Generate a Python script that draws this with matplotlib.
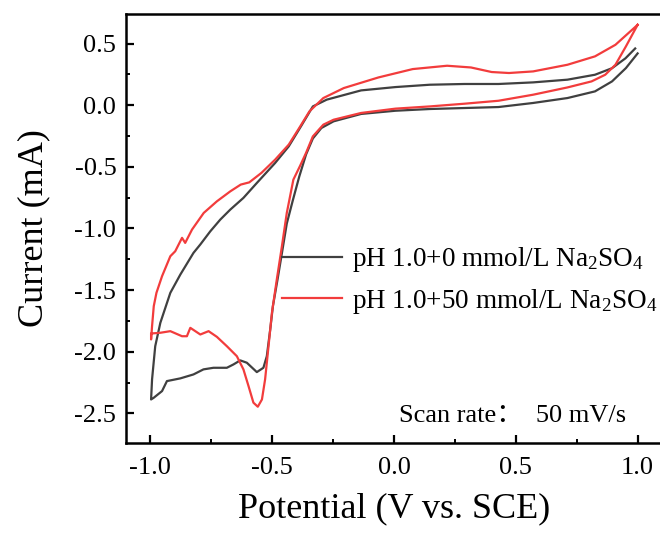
import matplotlib
matplotlib.use("Agg")
import matplotlib.pyplot as plt
from matplotlib.ticker import MultipleLocator

# CV loop: potential (V vs. SCE) and current (mA)
# each loop starts at the +1.0 V vertex, runs down the cathodic scan, back up
E_0mM = [1.00, 0.952, 0.895, 0.825, 0.712, 0.571, 0.429, 0.289, 0.147, 0.006,
         -0.135, -0.248, -0.298, -0.333, -0.361, -0.389, -0.415, -0.440, -0.460,
         -0.478, -0.497, -0.508, -0.522, -0.536, -0.563, -0.604, -0.631, -0.659,
         -0.686, -0.741, -0.782, -0.823, -0.877, -0.932, -0.952, -0.986, -0.997,
         -0.993, -0.980, -0.959, -0.918, -0.877, -0.823, -0.795, -0.754, -0.713,
         -0.672, -0.618, -0.563, -0.488, -0.432, -0.382, -0.333, -0.276, -0.135,
         0.006, 0.147, 0.289, 0.429, 0.571, 0.712, 0.825, 0.895, 0.950, 0.990]
I_0mM = [0.42, 0.301, 0.193, 0.112, 0.058, 0.018, -0.015, -0.023, -0.031, -0.045,
         -0.071, -0.131, -0.185, -0.270, -0.400, -0.580, -0.770, -0.960, -1.200,
         -1.414, -1.630, -1.819, -2.036, -2.130, -2.165, -2.089, -2.070, -2.103,
         -2.130, -2.130, -2.143, -2.184, -2.216, -2.238, -2.319, -2.373, -2.387,
         -2.224, -1.955, -1.765, -1.522, -1.374, -1.198, -1.130, -1.023, -0.928,
         -0.847, -0.752, -0.631, -0.469, -0.334, -0.172, -0.010, 0.045, 0.120,
         0.147, 0.166, 0.172, 0.172, 0.185, 0.207, 0.247, 0.300, 0.380, 0.460]

E_50mM = [1.00, 0.952, 0.909, 0.867, 0.811, 0.712, 0.571, 0.429, 0.289, 0.147,
          0.006, -0.135, -0.248, -0.290, -0.333, -0.361, -0.385, -0.413, -0.440,
          -0.460, -0.481, -0.501, -0.515, -0.529, -0.542, -0.559, -0.577, -0.597,
          -0.618, -0.645, -0.686, -0.727, -0.761, -0.795, -0.836, -0.850, -0.870,
          -0.918, -0.959, -0.997, -0.997,
          -0.993, -0.986, -0.975, -0.952, -0.918, -0.898, -0.870, -0.857, -0.829,
          -0.781, -0.727, -0.672, -0.629, -0.594, -0.544, -0.488, -0.432, -0.389,
          -0.347, -0.290, -0.206, -0.064, 0.077, 0.218, 0.316, 0.401, 0.472,
          0.571, 0.712, 0.825, 0.909, 1.00]
I_50mM = [0.652, 0.477, 0.328, 0.247, 0.193, 0.144, 0.085, 0.036, 0.012, -0.010,
          -0.028, -0.063, -0.118, -0.158, -0.253, -0.387, -0.490, -0.604, -0.874,
          -1.144, -1.414, -1.684, -1.955, -2.224, -2.387, -2.446, -2.413, -2.279,
          -2.143, -2.036, -1.955, -1.879, -1.833, -1.860, -1.806, -1.874, -1.874,
          -1.833, -1.846, -1.852, -1.900,
          -1.792, -1.630, -1.522, -1.387, -1.225, -1.185, -1.076, -1.117, -1.009,
          -0.874, -0.780, -0.699, -0.644, -0.626, -0.549, -0.442, -0.320, -0.185,
          -0.050, 0.058, 0.139, 0.225, 0.293, 0.320, 0.306, 0.269, 0.261,
          0.274, 0.328, 0.396, 0.490, 0.652]

labels = [r"pH 1.0+0 mmol/L Na$\mathregular{_2}$SO$\mathregular{_4}$",
          r"pH 1.0+50 mmol/L Na$\mathregular{_2}$SO$\mathregular{_4}$"]
colors = ["#404040", "#f23c3c"]

plt.rcParams['font.family'] = ['Liberation Serif', 'Noto Sans CJK SC']
plt.rcParams['mathtext.fontset'] = 'custom'
plt.rcParams['mathtext.rm'] = 'Liberation Serif'
plt.rcParams['axes.unicode_minus'] = False

fig = plt.figure(figsize=(6.6, 5.35), dpi=100)
ax = fig.add_axes([0.1909, 0.172, 0.8121, 0.8019])

ax.plot(E_0mM, I_0mM, color=colors[0], lw=1.6, label=labels[0])
ax.plot(E_50mM, I_50mM, color=colors[1], lw=1.6, label=labels[1])

ax.set_xlim(-1.1, 1.1)
ax.set_ylim(-2.74, 0.74)
ax.xaxis.set_major_locator(MultipleLocator(0.5))
ax.xaxis.set_minor_locator(MultipleLocator(0.25))
ax.yaxis.set_major_locator(MultipleLocator(0.5))
ax.yaxis.set_minor_locator(MultipleLocator(0.25))
ax.tick_params(which='major', direction='in', length=6, width=1.6, labelsize=19, pad=7)
ax.tick_params(axis='x', which='major', pad=10)
ax.tick_params(which='minor', direction='in', length=3, width=1.4)
for s in ax.spines.values():
    s.set_linewidth(1.8)

ax.set_xlabel("Potential (V vs. SCE)", fontsize=26, labelpad=10)
ax.set_ylabel("Current (mA)", fontsize=26, labelpad=17)

ax.legend(loc='center left', bbox_to_anchor=(282 / 660, 1 - 280.5 / 535),
          bbox_transform=fig.transFigure, frameon=False, fontsize=19.5,
          borderpad=0, borderaxespad=0, handlelength=2.2, handletextpad=0.37,
          labelspacing=0.46)

ax.text(399 / 660, 1 - 416 / 535, "Scan rate：  50 mV/s", transform=fig.transFigure,
        fontsize=19, va='center', ha='left')

fig.savefig("out.png", dpi=100)
